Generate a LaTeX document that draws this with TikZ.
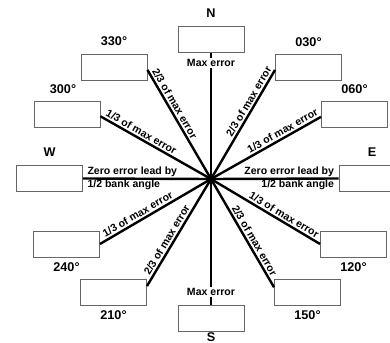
\documentclass[tikz,border=0pt]{standalone}
\usepackage{fontspec}
\setmainfont{Liberation Sans}
\usetikzlibrary{positioning}
\tikzset{
  every picture/.style={x=0.75pt, y=0.75pt, font=\bfseries},
  card/.style={draw=black!60, line width=0.7pt, minimum width=49.5pt, minimum height=19.5pt, inner sep=0pt},
  spoke/.style={draw=black, line width=1.8pt},
  tag/.style={font=\bfseries\fontsize{7.9}{9}\selectfont, inner sep=1.2pt},
  heading/.style={font=\bfseries\fontsize{9.5}{11}\selectfont, inner sep=1pt},
}
\begin{document}
\begin{tikzpicture}
  \useasboundingbox (0,0) rectangle (390,343);
  \clip (0,0) rectangle (390,343);
  \coordinate (hub) at (211,164);
  % heading boxes
  \node[card] (bN) at (211,303.5) {};
  \node[card] (b330) at (114,276) {};
  \node[card] (b030) at (308.5,276) {};
  \node[card] (b300) at (67,229) {};
  \node[card] (b060) at (354.5,228.5) {};
  \node[card] (bW) at (49.5,164.5) {};
  \node[card] (bE) at (372,164.5) {};
  \node[card] (b240) at (66.5,99) {};
  \node[card] (b120) at (353.5,99) {};
  \node[card] (b210) at (113.5,51) {};
  \node[card] (b150) at (307.5,51) {};
  \node[card] (bS) at (211,25) {};
  % heading labels
  \node[heading, above=5pt of bN] (lN) {N};
  \node[heading, above=5pt of b330] (l330) {330°};
  \node[heading, above=4pt of b030] (l030) {030°};
  \node[heading, above=4pt of b300, xshift=-3pt] (l300) {300°};
  \node[heading, above=4pt of b060] (l060) {060°};
  \node[heading, above=5pt of bW] (lW) {W};
  \node[heading, above=5pt of bE] (lE) {E};
  \node[heading, below=3pt of b240] (l240) {240°};
  \node[heading, below=3pt of b120] (l120) {120°};
  \node[heading, below=3pt of b210] (l210) {210°};
  \node[heading, below=3pt of b150] (l150) {150°};
  \node[heading, below=0pt of bS] (lS) {S};
  % spokes
  \draw[spoke] (bN) -- (hub);
  \draw[spoke] (bS) -- (hub);
  \draw[spoke] (bW.east) -- (hub);
  \draw[spoke] (bE.west) -- (hub);
  \draw[spoke] (b330.355) -- (hub) node[tag, sloped, above, pos=.34] (t330) {2/3 of max error};
  \draw[spoke] (b030.185) -- (hub) node[tag, sloped, above, pos=.32] (t030) {2/3 of max error};
  \draw[spoke] (b300.356) -- (hub) node[tag, sloped, above, pos=.34] (t300) {1/3 of max error};
  \draw[spoke] (b060.184) -- (hub) node[tag, sloped, above, pos=.32] (t060) {1/3 of max error};
  \draw[spoke] (b240.east) -- (hub) node[tag, sloped, above, pos=.37] (t240) {1/3 of max error};
  \draw[spoke] (b120.west) -- (hub) node[tag, sloped, above, pos=.36] (t120) {1/3 of max error};
  \draw[spoke] (b210.10) -- (hub) node[tag, sloped, above, pos=.4] (t210) {2/3 of max error};
  \draw[spoke] (b150.172) -- (hub) node[tag, sloped, above, pos=.4] (t150) {2/3 of max error};
  % texts on the N-S and W-E spokes
  \node[tag, fill=white] (mN) at (211,280) {Max error};
  \node[tag, fill=white] (mS) at (211,51) {Max error};
  \node[tag, anchor=south west, xshift=2pt] (zW) at (bW.east) {Zero error lead by};
  \node[tag, anchor=north west, xshift=2pt] (hW) at (bW.east) {1/2 bank angle};
  \node[tag, anchor=south east, xshift=-2pt] (zE) at (bE.west) {Zero error lead by};
  \node[tag, anchor=north east, xshift=-2pt] (hE) at (bE.west) {1/2 bank angle};
\end{tikzpicture}
\end{document}
